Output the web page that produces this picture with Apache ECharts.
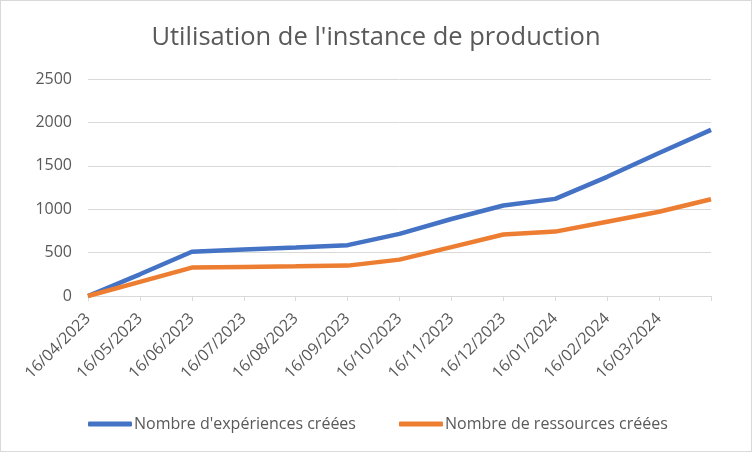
<!DOCTYPE html>
<html>
<head>
<meta charset="utf-8">
<script src="https://cdn.jsdelivr.net/npm/echarts@6/dist/echarts.min.js"></script>
<style>
html,body{margin:0;padding:0;background:#fff;}
#c{width:752px;height:452px;box-sizing:border-box;border:1px solid #D9D9D9;}
</style>
</head>
<body>
<div id="c"></div>
<script>
const categories = ['16/04/2023','16/05/2023','16/06/2023','16/07/2023','16/08/2023','16/09/2023','16/10/2023','16/11/2023','16/12/2023','16/01/2024','16/02/2024','16/03/2024','16/04/2024'];
const experiences = [0, 250, 510, 535, 560, 586, 716, 887, 1043, 1119, 1373, 1648, 1914];
const ressources = [0, 163, 327, 335, 342, 350, 419, 563, 708, 742, 856, 970, 1115];
const yTicks = [0, 500, 1000, 1500, 2000, 2500];

const chart = echarts.init(document.getElementById('c'));
const font = 'Open Sans';
chart.setOption({
  animation: false,
  title: {
    text: "Utilisation de l'instance de production",
    left: 'center', top: 19,
    textStyle: {fontFamily: font, fontSize: 25.5, fontWeight: 'normal', color: '#595959'}
  },
  legend: {
    top: 410, left: 82,
    itemGap: 43, itemWidth: 44, itemHeight: 5,
    icon: 'roundRect',
    textStyle: {fontFamily: font, fontSize: 16, color: '#595959', padding: [0,0,0,-3]},
    data: ["Nombre d'expériences créées", 'Nombre de ressources créées']
  },
  grid: {left: 87, right: 40, top: 78, bottom: 155, containLabel: false},
  xAxis: {
    type: 'category', data: categories, boundaryGap: false,
    axisLine: {lineStyle: {color: '#D9D9D9', width: 1}},
    axisTick: {show: true, length: 5, lineStyle: {color: '#D9D9D9'}},
    axisLabel: {
      rotate: 45, fontFamily: font, fontSize: 16, color: '#595959', margin: 20,
      interval: 0,
      formatter: (v, i) => i === categories.length - 1 ? '' : v
    }
  },
  yAxis: {
    type: 'value', min: yTicks[0], max: yTicks[yTicks.length-1], interval: 500,
    axisLine: {show: false}, axisTick: {show: false},
    splitLine: {lineStyle: {color: '#D9D9D9', width: 1}},
    axisLabel: {fontFamily: font, fontSize: 16, color: '#595959', margin: 16,
      formatter: v => String(v)}
  },
  series: [
    {name: "Nombre d'expériences créées", type: 'line', data: experiences, symbol: 'none',
     lineStyle: {color: '#4472C4', width: 4.5}, itemStyle: {color: '#4472C4'}},
    {name: 'Nombre de ressources créées', type: 'line', data: ressources, symbol: 'none',
     lineStyle: {color: '#ED7D31', width: 4.5}, itemStyle: {color: '#ED7D31'}}
  ]
});
</script>
</body>
</html>
